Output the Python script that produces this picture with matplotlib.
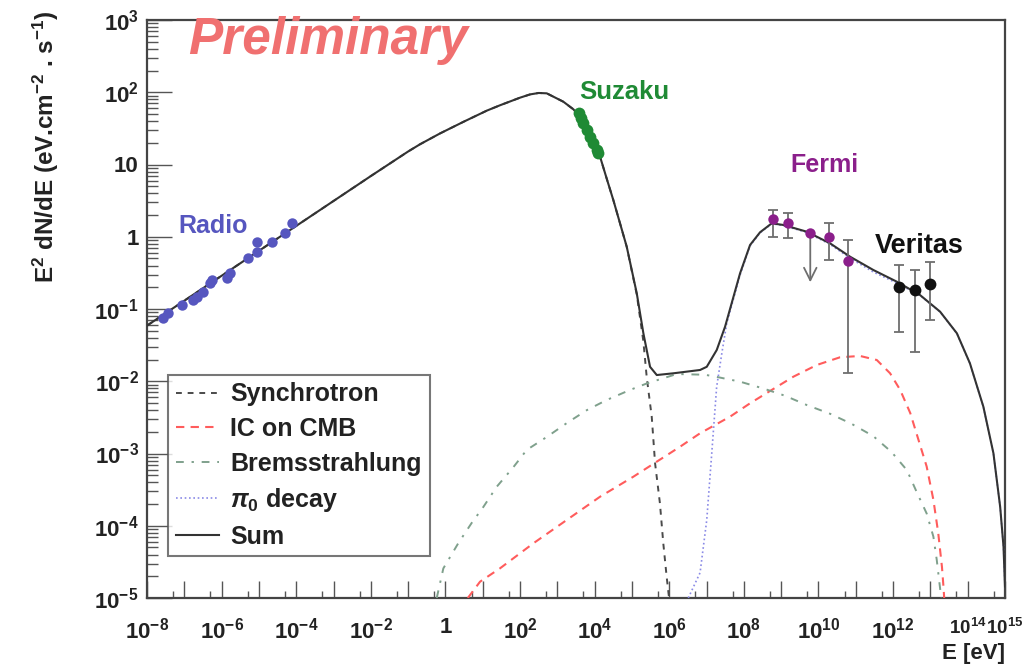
import numpy as np
import matplotlib
matplotlib.use("Agg")
import matplotlib.pyplot as plt
from matplotlib.ticker import FixedLocator, FixedFormatter, NullFormatter

plt.rcParams['font.family'] = ['Liberation Sans', 'DejaVu Sans']
plt.rcParams['mathtext.fontset'] = 'custom'
plt.rcParams['mathtext.rm'] = 'Liberation Sans:bold'
plt.rcParams['mathtext.bf'] = 'Liberation Sans:bold'
plt.rcParams['mathtext.it'] = 'Liberation Sans:bold:italic'
plt.rcParams['mathtext.sf'] = 'Liberation Sans:bold'

# ---- model curves (log10 E [eV], log10 E^2 dN/dE) ----
sum_logE = [-8, -6, -4, -2, -1, -0.681, -0.145, 0.48, 1.107, 1.464, 1.643, 2.0, 2.268,
            2.5, 2.716, 3.161, 3.43, 3.52, 3.79, 3.965, 4.145, 4.32, 4.50, 4.68, 4.86,
            5.129, 5.306, 5.485, 5.665, 6.11, 6.826, 7.005, 7.273, 7.496, 7.898, 8.166,
            8.434, 8.748, 9.059, 9.686, 10.31, 10.85, 11.47, 12.10, 12.72, 13.26, 13.71,
            14.06, 14.42, 14.69, 14.87, 14.96, 15.0]
sum_logY = [-1.23, -0.54, 0.15, 0.84, 1.18, 1.28, 1.43, 1.59, 1.745, 1.82, 1.855, 1.925,
            1.97, 1.99, 1.985, 1.869, 1.764, 1.709, 1.523, 1.316, 1.108, 0.81, 0.509, 0.186,
            -0.138, -0.783, -1.336, -1.80, -1.914, -1.89, -1.844, -1.80, -1.567, -1.245,
            -0.506, -0.114, 0.062, 0.186, 0.163, 0.07, -0.091, -0.277, -0.46, -0.622,
            -0.806, -1.037, -1.336, -1.752, -2.352, -2.997, -3.736, -4.29, -4.84]

synch_logE = [-8, -6, -4, -2, -1, -0.681, -0.145, 0.48, 1.107, 1.464, 1.643, 2.0, 2.268,
              2.5, 2.716, 3.161, 3.43, 3.52, 3.79, 3.965, 4.145, 4.32, 4.50, 4.68, 4.86,
              5.129, 5.306, 5.397, 5.53, 5.62, 5.75, 5.84, 5.93, 5.98, 6.02]
synch_logY = [-1.23, -0.54, 0.15, 0.84, 1.18, 1.28, 1.43, 1.59, 1.745, 1.82, 1.855, 1.925,
              1.97, 1.99, 1.985, 1.869, 1.764, 1.709, 1.523, 1.316, 1.108, 0.81, 0.509,
              0.186, -0.14, -0.80, -1.45, -1.95, -2.49, -3.136, -3.69, -4.243, -4.705,
              -4.935, -5.1]

ic_logE = [0.60, 0.928, 1.464, 2.357, 3.252, 4.145, 5.038, 5.665, 6.29, 6.826, 7.63, 8.166,
           8.748, 9.327, 9.954, 10.579, 11.115, 11.563, 11.92, 12.19, 12.46, 12.68, 12.90,
           13.08, 13.21, 13.31, 13.35, 13.37]
ic_logY = [-5, -4.774, -4.589, -4.243, -3.92, -3.598, -3.321, -3.113, -2.906, -2.72, -2.49,
           -2.305, -2.12, -1.937, -1.775, -1.668, -1.65, -1.706, -1.89, -2.12, -2.44, -2.81,
           -3.18, -3.64, -4.10, -4.57, -4.84, -5.0]

brems_logE = [-0.233, -0.056, 0.346, 0.705, 1.016, 1.375, 1.82, 2.18, 2.72, 3.25, 3.79, 4.32,
              4.95, 5.40, 6.2, 6.96, 7.32, 7.90, 8.52, 9.10, 9.69, 10.31, 10.89, 11.47, 11.96,
              12.37, 12.63, 12.90, 13.08, 13.17, 13.29]
brems_logY = [-5, -4.59, -4.24, -3.96, -3.74, -3.46, -3.19, -2.95, -2.77, -2.58, -2.40, -2.26,
              -2.12, -2.03, -1.90, -1.91, -1.945, -2.006, -2.10, -2.20, -2.33, -2.45, -2.59,
              -2.76, -2.98, -3.23, -3.53, -3.83, -4.15, -4.47, -5.0]

pi0_logE = [6.51, 6.826, 7.005, 7.14, 7.27, 7.41, 7.54, 7.898, 8.166, 8.434, 8.748, 9.059,
            9.686, 10.31, 10.85, 11.47, 12.10, 12.72, 13.26, 13.71, 14.06, 14.42, 14.69,
            14.87, 14.96, 15.0]
pi0_logY = [-5, -4.65, -3.92, -2.99, -2.08, -1.61, -1.20, -0.53, -0.125, 0.055, 0.18, 0.155,
            0.06, -0.105, -0.298, -0.488, -0.642, -0.81, -1.04, -1.338, -1.754, -2.354, -3.0,
            -3.74, -4.29, -4.84]

# ---- measurements ----
radio_logE = [-7.57, -7.44, -7.06, -6.77, -6.66, -6.50, -6.31, -6.26, -5.86, -5.77, -5.29,
              -5.05, -5.05, -4.65, -4.30, -4.11]
radio_logY = [-1.125, -1.055, -0.945, -0.875, -0.834, -0.765, -0.64, -0.60, -0.57, -0.50,
              -0.29, -0.21, -0.07, -0.07, 0.05, 0.19]

suzaku_logE = [3.58, 3.64, 3.69, 3.80, 3.88, 3.96, 4.06, 4.09]
suzaku_logY = [1.71, 1.64, 1.57, 1.48, 1.38, 1.30, 1.20, 1.16]

fermi_logE = [8.78, 9.18, 10.28, 10.79]
fermi_logY = [0.246, 0.19, -0.003, -0.34]
fermi_hi = [0.37, 0.325, 0.19, -0.045]
fermi_lo = [0.0, -0.021, -0.32, -1.886]
fermi_ul_logE = 9.78
fermi_ul_logY = 0.05
fermi_ul_tip = -0.63

veritas_logE = [12.16, 12.59, 12.99]
veritas_logY = [-0.695, -0.74, -0.654]
veritas_hi = [-0.39, -0.46, -0.35]
veritas_lo = [-1.32, -1.60, -1.15]

x_label_exps = [-8, -6, -4, -2, 0, 2, 4, 6, 8, 10, 12, 14, 15]
y_label_exps = [-5, -4, -3, -2, -1, 0, 1, 2, 3]


def p10(a):
    return np.power(10.0, np.asarray(a, dtype=float))


def dec_label(k):
    if k == 0:
        return '1'
    if k == 1:
        return '10'
    return r'$10^{%d}$' % k


W, H = 1023, 665
fig = plt.figure(figsize=(W / 100, H / 100), dpi=100)
fig.patch.set_facecolor('white')
ax = fig.add_axes([147 / W, 67 / H, 858 / W, 578 / H])
ax.set_xscale('log')
ax.set_yscale('log')
ax.set_xlim(1e-8, 1e15)
ax.set_ylim(1e-5, 1e3)

# model components
l_syn, = ax.plot(p10(synch_logE), p10(synch_logY), color='#4a4a4a', lw=1.4,
                 dashes=(3, 3), label='Synchrotron', zorder=3)
l_ic, = ax.plot(p10(ic_logE), p10(ic_logY), color='#ff5c5c', lw=1.5,
                dashes=(4, 3), label='IC on CMB', zorder=3)
l_br, = ax.plot(p10(brems_logE), p10(brems_logY), color='#7fa08c', lw=1.4,
                dashes=(4, 4, 1.2, 4), label='Bremsstrahlung', zorder=3)
l_pi, = ax.plot(p10(pi0_logE), p10(pi0_logY), color='#8a8ae6', lw=1.2,
                dashes=(1, 1.6), label=r'$\pi_0$ decay', zorder=3)
l_sum, = ax.plot(p10(sum_logE), p10(sum_logY), color='#333333', lw=1.5,
                 label='Sum', zorder=4)

err_kw = dict(fmt='none', ecolor='#6e6e6e', elinewidth=1.3, capsize=3.5, capthick=1.3, zorder=5)

# radio
ax.plot(p10(radio_logE), p10(radio_logY), 'o', color='#5656bf', ms=7.5, mec='none', zorder=6)
# suzaku
ax.plot(p10(suzaku_logE), p10(suzaku_logY), 'o', color='#1f8a35', ms=8.5, mec='none', zorder=6)
# fermi
fy = p10(fermi_logY)
ax.errorbar(p10(fermi_logE), fy, yerr=[fy - p10(fermi_lo), p10(fermi_hi) - fy], **err_kw)
ax.annotate('', xy=(10 ** fermi_ul_logE, 10 ** fermi_ul_tip),
            xytext=(10 ** fermi_ul_logE, 10 ** fermi_ul_logY),
            arrowprops=dict(arrowstyle='->,head_length=0.9,head_width=0.45', color='#6e6e6e',
                            lw=1.3, shrinkA=0, shrinkB=0), zorder=5)
ax.plot(p10(fermi_logE + [fermi_ul_logE]), p10(fermi_logY + [fermi_ul_logY]), 'o',
        color='#8b1f8b', ms=7.5, mec='none', zorder=6)
# veritas
vy = p10(veritas_logY)
ax.errorbar(p10(veritas_logE), vy, yerr=[vy - p10(veritas_lo), p10(veritas_hi) - vy], **err_kw)
ax.plot(p10(veritas_logE), vy, 'o', color='#111111', ms=8.5, mec='none', zorder=6)

# axes styling
for s in ax.spines.values():
    s.set_color('#444444')
    s.set_linewidth(1.6)

x_major_exps = list(range(-8, 16))
ax.xaxis.set_major_locator(FixedLocator([10.0 ** k for k in x_major_exps]))
ax.xaxis.set_major_formatter(FixedFormatter(
    [dec_label(k) if k in x_label_exps else '' for k in x_major_exps]))
ax.xaxis.set_minor_locator(FixedLocator([5 * 10.0 ** k for k in range(-8, 15)]))
ax.xaxis.set_minor_formatter(NullFormatter())

ax.yaxis.set_major_locator(FixedLocator([10.0 ** k for k in y_label_exps]))
ax.yaxis.set_major_formatter(FixedFormatter([dec_label(k) for k in y_label_exps]))
ax.yaxis.set_minor_locator(FixedLocator([m * 10.0 ** k for k in range(-5, 3) for m in range(2, 10)]))
ax.yaxis.set_minor_formatter(NullFormatter())

ax.tick_params(axis='both', which='both', direction='in', top=False, right=False,
               color='#555555', width=1.0, labelsize=16, labelcolor='#222222')
ax.tick_params(axis='x', which='major', length=12, pad=14)
ax.tick_params(axis='x', which='minor', length=5)
ax.tick_params(axis='y', which='major', length=18, pad=6)
ax.tick_params(axis='y', which='minor', length=8)
for lab in ax.get_xticklabels() + ax.get_yticklabels():
    lab.set_fontweight('bold')
# the last two decade labels sit close together at the right edge
for k, lab in zip(x_major_exps, ax.get_xticklabels()):
    if k >= 14:
        lab.set_fontsize(13.5)

# axis titles
fig.text(1005 / W, 1 - 654 / H, 'E [eV]', ha='right', va='center', fontsize=16,
         fontweight='bold', color='#222222')
fig.text(46 / W, 1 - 10 / H, r'E$^{2}$ dN/dE (eV.cm$^{-2}$ . s$^{-1}$)', rotation=90,
         ha='center', va='top', fontsize=17.5, fontweight='bold', color='#222222')

# annotations
fig.text(188 / W, 1 - 54 / H, 'Preliminary', color='#f07070', fontsize=37,
         fontweight='bold', fontstyle='italic', va='baseline')
ax.text(10 ** -7.17, 10 ** 0.052, 'Radio', color='#5656bf', fontsize=18,
        fontweight='bold', va='baseline')
ax.text(10 ** 3.58, 10 ** 1.907, 'Suzaku', color='#1f8a35', fontsize=18.5,
        fontweight='bold', va='baseline')
ax.text(10 ** 9.24, 10 ** 0.896, 'Fermi', color='#8b1f8b', fontsize=18,
        fontweight='bold', va='baseline')
ax.text(10 ** 11.52, 10 ** -0.225, 'Veritas', color='#111111', fontsize=19.5,
        fontweight='bold', va='baseline')

leg = ax.legend(handles=[l_syn, l_ic, l_br, l_pi, l_sum], loc='upper left',
                bbox_to_anchor=((168 - 147) / 858, (598 - 375) / 578), borderaxespad=0,
                fontsize=18, frameon=True, fancybox=False, edgecolor='#555555',
                handlelength=1.75, handletextpad=0.45, labelspacing=0.42, borderpad=0.3)
leg.get_frame().set_linewidth(1.5)
for t in leg.get_texts():
    t.set_fontweight('bold')
    t.set_color('#222222')

fig.savefig('out.png', dpi=100, facecolor='white')
